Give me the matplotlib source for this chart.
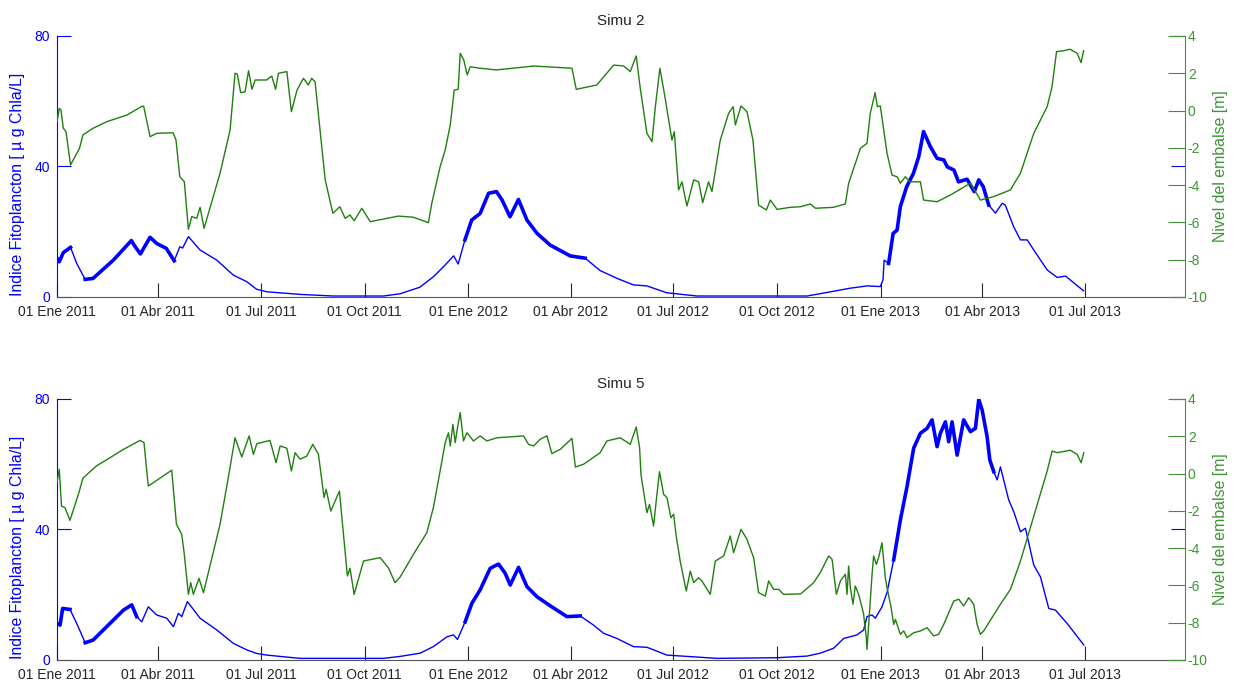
import pandas as pd
import matplotlib
matplotlib.use("Agg")
import matplotlib.pyplot as plt
import matplotlib.dates as mdates

plt.rcParams["font.family"] = ["Liberation Sans", "DejaVu Sans"]
plt.rcParams["axes.unicode_minus"] = False

# ---- datos (dias desde el 01/01/2011) ----
inicio = pd.Timestamp("2011-01-01")
fin = pd.Timestamp("2013-09-28")

fechas_ticks = ["2011-01-01", "2011-04-01", "2011-07-01", "2011-10-01", "2012-01-01", "2012-04-01",
                "2012-07-01", "2012-10-01", "2013-01-01", "2013-04-01", "2013-07-01"]
etiquetas_ticks = ["01 Ene 2011", "01 Abr 2011", "01 Jul 2011", "01 Oct 2011", "01 Ene 2012", "01 Abr 2012",
                   "01 Jul 2012", "01 Oct 2012", "01 Ene 2013", "01 Abr 2013", "01 Jul 2013"]

titulos = ["Simu 2", "Simu 5"]

# Simu 2 - fitoplancton
s2_fito_dias = [0, 2, 5.6, 12, 17.5, 25, 32, 50, 66, 69, 74, 82.6, 88.5, 97, 104, 109, 111.5, 116.6, 127,
                141.8, 156.5, 168.4, 177, 186, 215.7, 245, 289.7, 304.5, 322, 334, 343, 352, 356, 362, 368,
                375.5, 383, 390, 395, 402, 409.5, 417, 426, 437.7, 455.4, 468.7, 476, 482, 497, 511.6, 523.5,
                541, 568, 639, 665.6, 677, 704, 719, 730.6, 733, 734, 738, 742, 745.5, 748.4, 754, 760, 764.7,
                769, 775, 781, 787, 790, 796, 800, 807.6, 814, 818, 822, 826.8, 832.8, 838.7, 841.5, 849, 855,
                861, 866.8, 878.7, 887.5, 895, 911]
s2_fito_val = [11.9, 10.8, 13.6, 15.2, 10.3, 5.4, 5.7, 11.3, 17.3, 15.6, 13.2, 18.3, 16.4, 14.9, 11.1, 15.4,
               15.0, 18.5, 14.4, 11.3, 6.7, 4.7, 2.4, 1.6, 0.8, 0.3, 0.3, 1.0, 3.0, 6.2, 9.3, 12.6, 10.1, 17.5,
               23.6, 25.6, 31.8, 32.3, 29.7, 24.6, 29.9, 23.6, 19.5, 15.9, 12.6, 11.9, 9.8, 8.1, 5.7, 3.7, 3.4,
               1.3, 0.3, 0.3, 0.3, 1.0, 2.7, 3.4, 3.2, 5.2, 11.3, 10.3, 19.5, 20.5, 27.7, 33.8, 37.9, 43.0,
               50.7, 46.1, 42.5, 42.0, 39.9, 38.9, 35.3, 36.1, 32.3, 35.9, 33.8, 28.2, 25.7, 28.7, 28.2, 21.5,
               17.5, 17.5, 14.4, 8.3, 6.0, 6.4, 1.9]
s2_ruido = [(0, 12), (24, 105), (358, 470), (736, 832)]

# Simu 2 - nivel del embalse
s2_nivel_dias = [0, 2, 3.5, 5.6, 8, 12, 20, 23, 32, 44, 62, 76, 77, 82.6, 88.5, 103, 105.6, 109, 113, 116.6,
                 119.6, 124, 127, 130.5, 144.7, 153.6, 158, 160, 163, 166.9, 170, 173, 175.8, 186, 190.6, 194,
                 196.5, 204, 208, 213, 218.7, 223, 226, 229, 238, 244.8, 251, 255.7, 260, 263.7, 270.5, 278,
                 303, 316, 329.6, 332.6, 340, 344.5, 349, 352.5, 356, 357.8, 361, 364, 366.7, 375.5, 390, 423,
                 457, 460.8, 479, 494, 502.8, 508.7, 514, 517.6, 523.5, 528, 531, 535, 539.7, 545.7, 547.8,
                 551.6, 554.6, 559, 565, 569.4, 573, 578.2, 581.2, 588.6, 596, 600, 602, 607, 612.3, 617.6,
                 622.6, 629.5, 633, 639, 650.7, 659.6, 668.5, 673, 689, 699.6, 702.5, 708.5, 713, 718.8, 721.7,
                 726, 728, 730.6, 736.6, 741, 745.5, 748.4, 752.8, 757, 766.2, 769, 781, 792.8, 810.6, 819.5,
                 831, 846, 855, 866.8, 878.7, 883, 887, 893.4, 899, 905.3, 908.8, 911]
s2_nivel_val = [-0.60, 0.12, 0.03, -0.95, -1.13, -2.92, -2.02, -1.31, -0.95, -0.60, -0.24, 0.25, 0.20, -1.40,
                -1.22, -1.19, -1.58, -3.55, -3.82, -6.37, -5.69, -5.78, -5.19, -6.32, -3.36, -1.04, 2.00, 1.96,
                0.96, 1.01, 2.14, 1.14, 1.64, 1.64, 1.85, 1.14, 2.00, 2.09, -0.06, 1.10, 1.73, 1.37, 1.73,
                1.55, -3.72, -5.51, -5.16, -5.78, -5.60, -5.91, -5.24, -5.96, -5.66, -5.72, -6.01, -4.97,
                -3.01, -2.11, -0.77, 1.10, 1.14, 3.07, 2.71, 1.91, 2.35, 2.27, 2.18, 2.39, 2.27, 1.14, 1.37,
                2.44, 2.39, 2.09, 2.93, 1.19, -1.22, -1.67, 0.21, 2.27, 0.66, -1.58, -1.13, -4.26, -3.82,
                -5.12, -3.72, -3.82, -4.94, -3.82, -4.35, -1.58, -0.15, 0.21, -0.77, 0.25, -0.06, -1.58,
                -5.07, -5.33, -4.80, -5.30, -5.19, -5.16, -5.01, -5.24, -5.19, -5.01, -3.90, -2.83, -2.02,
                -1.76, -0.15, 0.96, 0.21, 0.25, -2.29, -3.46, -3.55, -3.90, -3.55, -3.82, -3.82, -4.80, -4.89,
                -4.53, -3.90, -4.80, -4.62, -4.26, -3.36, -1.22, 0.21, 1.28, 3.16, 3.21, 3.29, 3.07, 2.57, 3.21]

# Simu 5 - fitoplancton
s5_fito_dias = [0, 2.7, 5, 11.5, 17.5, 25, 32, 47, 59, 66.3, 70.7, 75.2, 81, 88.5, 97.4, 103.3, 107.7, 110.7,
                115.7, 127, 141.8, 156.5, 168.4, 177.3, 186.2, 215.7, 289.7, 304.5, 322.3, 334, 346, 351.8,
                355.4, 362.2, 368.2, 375.5, 384.4, 391.8, 397.7, 402.2, 409.6, 417, 425.9, 437.7, 452.5, 464.3,
                476.1, 485, 496.9, 511.6, 523.5, 541.3, 585.7, 639, 665.6, 677.4, 689.2, 698.1, 710, 715.8,
                718.8, 723.3, 726.2, 732.1, 736.6, 742.5, 748.4, 754.3, 760.2, 766.2, 772.1, 776.5, 781, 783.9,
                788.4, 791.3, 794.3, 798.8, 804.6, 810.6, 815, 818, 821, 825.4, 827.8, 831.3, 834.3, 837.2,
                844.6, 849, 855, 859.4, 866.8, 872.7, 880.1, 886, 896.4, 911.2]
s5_fito_val = [11.2, 10.7, 15.8, 15.5, 11.2, 5.3, 6.1, 11.2, 15.3, 16.9, 13.3, 11.7, 16.3, 13.8, 12.8, 10.2,
               14.3, 13.3, 17.9, 12.8, 9.2, 5.1, 3.1, 2.0, 1.5, 0.5, 0.5, 1.1, 2.1, 4.1, 7.1, 7.7, 6.3, 11.7,
               17.4, 21.5, 28.1, 29.4, 26.6, 23.0, 28.4, 22.5, 19.4, 16.6, 13.3, 13.5, 10.7, 8.2, 6.6, 4.1, 3.9,
               1.5, 0.5, 0.7, 1.2, 2.1, 3.6, 6.6, 7.7, 9.2, 13.3, 13.8, 12.8, 16.3, 20.7, 30.7, 42.9, 53.1,
               64.9, 69.5, 71.0, 73.6, 65.4, 69.5, 73.0, 66.9, 73.0, 62.8, 73.6, 70.0, 71.0, 79.9, 76.6, 68.4,
               61.3, 57.7, 55.2, 59.2, 49.0, 45.5, 39.3, 40.4, 29.1, 25.5, 15.8, 15.3, 11.2, 4.6]
s5_ruido = [(0, 12), (22, 72), (360, 470), (740, 832)]

# Simu 5 - nivel del embalse
s5_nivel_dias = [0, 2, 4, 7.1, 11.5, 19, 23, 35, 47, 59, 73.7, 77.2, 81, 101.8, 106, 110.7, 112.8, 116.6,
                 118.7, 121, 126, 130, 144.7, 152, 158, 164, 170.5, 174.3, 177.3, 189, 194.4, 198, 204, 208,
                 211.3, 215.7, 221.7, 227, 232, 237, 238.8, 243, 250.6, 257.7, 260, 263.7, 272, 286.8, 294,
                 300, 304.5, 316.3, 328.2, 334, 340, 344.5, 347.4, 349, 351.3, 353.4, 355.4, 357.8, 360.7,
                 363.7, 369.6, 375.5, 381.5, 390.4, 414, 418.4, 422.9, 428.8, 434.8, 439.2, 446.6, 457, 460,
                 467.3, 482, 488, 499.8, 508.7, 514, 517, 518.2, 523.5, 525.8, 529.4, 532.4, 534.7, 538.3,
                 541.3, 544.8, 547.2, 549.5, 553, 558.4, 562, 565, 569.3, 572.3, 579.7, 584.2, 591.6, 597.5,
                 600.4, 607, 612.3, 618.2, 622.6, 628.6, 631.5, 636, 640.4, 644.8, 660, 671.5, 677.4, 684.8,
                 687.8, 691.6, 695.2, 699.6, 701.1, 702.5, 704, 706.4, 708.4, 711.4, 714.4, 715.8, 718.2,
                 718.8, 720.3, 723.3, 724.7, 727.1, 729.1, 732.1, 735.1, 736.6, 740.2, 742.5, 744, 748.4,
                 751.4, 754.3, 760.2, 766.2, 772.1, 778, 782.4, 786.9, 795.8, 800.2, 804.6, 809.1, 813.5,
                 816.5, 819.4, 822.4, 837.2, 846.1, 855, 863.8, 872.7, 878.7, 883.1, 887.5, 899.3, 905.3,
                 908.8, 911.2]
s5_nivel_val = [-0.49, 0.23, -1.74, -1.83, -2.51, -1.11, -0.25, 0.41, 0.85, 1.30, 1.78, 1.66, -0.67, 0.18,
                -2.72, -3.26, -4.24, -6.48, -5.85, -6.48, -5.62, -6.39, -2.72, -0.22, 1.92, 0.89, 2.02, 1.03,
                1.60, 1.78, 0.58, 1.48, 1.36, 0.14, 1.12, 0.77, 0.94, 1.57, 1.03, -1.29, -0.84, -2.01, -0.94,
                -5.49, -5.08, -6.48, -4.69, -4.51, -5.05, -5.85, -5.55, -4.33, -3.17, -1.83, 0.14, 1.66, 2.19,
                1.48, 2.64, 1.66, 2.46, 3.27, 1.75, 2.19, 1.75, 2.02, 1.75, 1.92, 2.02, 1.57, 1.48, 1.84, 2.02,
                1.07, 1.30, 1.89, 0.35, 0.50, 1.12, 1.75, 1.92, 1.57, 2.50, 1.39, -0.04, -2.10, -1.65, -2.81,
                -1.11, 0.10, -1.11, -1.29, -2.37, -2.18, -3.35, -4.69, -6.30, -5.23, -5.85, -5.59, -5.76,
                -6.48, -4.69, -4.42, -3.35, -4.24, -2.99, -3.53, -4.51, -6.39, -6.57, -5.76, -6.21, -6.21,
                -6.48, -6.45, -5.85, -5.30, -4.42, -4.60, -6.48, -5.76, -5.40, -6.48, -4.96, -6.12, -7.01,
                -6.03, -6.48, -7.19, -7.55, -8.80, -9.43, -8.09, -5.40, -4.42, -4.87, -4.51, -3.71, -5.59,
                -6.12, -7.19, -8.09, -7.82, -8.62, -8.44, -8.80, -8.54, -8.44, -8.27, -8.71, -8.62, -8.09,
                -6.84, -6.74, -7.10, -6.66, -7.01, -8.09, -8.62, -8.44, -7.01, -6.21, -4.69, -2.90, -1.11,
                0.14, 1.21, 1.12, 1.25, 1.03, 0.58, 1.12]

azul = "#0000ff"
verde_linea = "#1f800f"
verde_eje = "#3c9632"
gris = "#262626"


def fechas(dias):
    return inicio + pd.to_timedelta(pd.Series(dias, dtype=float), unit="D")


def panel(ax, titulo, f_dias, f_val, ruido, n_dias, n_val):
    fx = fechas(f_dias)
    fv = pd.Series(f_val, dtype=float)
    ax.plot(fx, fv, color=azul, lw=1.0)
    # tramos con mucho ruido: trazo grueso
    for a, b in ruido:
        m = (pd.Series(f_dias) >= a) & (pd.Series(f_dias) <= b)
        ax.plot(fx[m], fv[m], color=azul, lw=2.6)

    ax2 = ax.twinx()
    ax2.plot(fechas(n_dias), n_val, color=verde_linea, lw=1.0)

    ax.set_xlim(inicio, fin)
    ax.set_ylim(0, 80)
    ax.set_yticks([0, 40, 80])
    ax2.set_ylim(-10, 4)
    ax2.set_yticks(range(-10, 5, 2))
    ax.set_xticks(mdates.date2num(pd.to_datetime(fechas_ticks)))
    ax.set_xticklabels(etiquetas_ticks)

    for s in ["top", "right"]:
        ax.spines[s].set_visible(False)
    ax.spines["left"].set_color(azul)
    ax.spines["bottom"].set_color("#555555")
    for s in ["top", "left", "bottom"]:
        ax2.spines[s].set_visible(False)
    ax2.spines["right"].set_color(verde_eje)

    ax.tick_params(axis="x", direction="in", length=10, color=gris, labelcolor=gris, labelsize=10, pad=6)
    ax.tick_params(axis="y", direction="in", length=10, color=azul, labelcolor=azul, labelsize=10,
                   right=True, pad=5)
    ax2.tick_params(axis="y", direction="in", length=12, color=verde_eje, labelcolor=verde_eje,
                    labelsize=10, pad=2)

    ax.set_title(titulo, fontsize=11, color=gris, pad=8)
    ax.set_ylabel("Indice Fitoplancton [ µ g Chla/L]", color=azul, fontsize=11.4)
    ax.yaxis.set_label_coords(-0.0284, 0.433)
    ax2.set_ylabel("Nivel del embalse [m]", color=verde_eje, fontsize=11.4)
    ax2.yaxis.set_label_coords(1.0248, 0.5)


fig = plt.figure(figsize=(12.37, 6.82), dpi=100)
ax_a = fig.add_axes([0.04608, 0.56452, 0.91188, 0.38270])
ax_b = fig.add_axes([0.04608, 0.03226, 0.91188, 0.38270])

panel(ax_a, titulos[0], s2_fito_dias, s2_fito_val, s2_ruido, s2_nivel_dias, s2_nivel_val)
panel(ax_b, titulos[1], s5_fito_dias, s5_fito_val, s5_ruido, s5_nivel_dias, s5_nivel_val)

fig.savefig("out.png", dpi=100)
